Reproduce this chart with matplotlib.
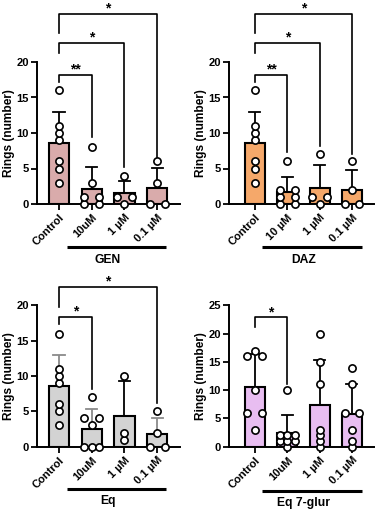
import numpy as np
import matplotlib
matplotlib.use("Agg")
import matplotlib.pyplot as plt
from matplotlib.transforms import blended_transform_factory

plt.rcParams['font.family'] = ['Liberation Sans', 'DejaVu Sans']
plt.rcParams['font.weight'] = 'bold'

# ---------------- data ----------------
labels_gen = ["Control", "10uM", "1 µM", "0.1 µM"]
labels_daz = ["Control", "10 µM", "1 µM", "0.1 µM"]
labels_eq = ["Control", "10uM", "1 µM", "0.1 µM"]
labels_eq7 = ["Control", "10uM", "1 µM", "0.1 µM"]

gen_points = [[16, 11, 10, 9, 6, 5, 3], [8, 3, 1, 1, 0, 0], [4, 1, 1, 0], [6, 3, 0, 0]]
daz_points = [[16, 11, 10, 9, 6, 5, 3], [6, 2, 2, 1, 1, 0, 0], [7, 1, 1, 0], [6, 2, 0, 0]]
eq_points = [[16, 11, 10, 9, 6, 5, 3], [7, 4, 4, 3, 0, 0, 0], [10, 2, 1], [5, 2, 0, 0]]
eq7_points = [[17, 16, 16, 10, 6, 6, 3], [10, 2, 2, 2, 1, 1, 1, 0],
              [20, 15, 11, 3, 2, 1, 0], [14, 11, 6, 6, 3, 1, 0]]

group_names = ["GEN", "DAZ", "Eq", "Eq 7-glur"]
bar_colors = ["#d9abab", "#f5a86a", "#d3d3d3", "#e8bdf1"]
ymax = [20, 20, 20, 25]

# significance: (target index, stars, bracket y, left-leg end, right-leg end)
gen_sig = [(1, "**", 18.2, 17.2, 9.4), (2, "*", 22.7, 21.3, 5.2), (3, "*", 26.8, 24.1, 6.6)]
daz_sig = [(1, "**", 18.2, 17.2, 7.3), (2, "*", 22.7, 21.3, 8.1), (3, "*", 26.8, 24.1, 7.1)]
eq_sig = [(1, "*", 18.35, 17.3, 8.1), (3, "*", 22.6, 19.7, 6.2)]
eq7_sig = [(1, "*", 22.95, 21.2, 11.0)]

panels = [
    (labels_gen, gen_points, gen_sig),
    (labels_daz, daz_points, daz_sig),
    (labels_eq, eq_points, eq_sig),
    (labels_eq7, eq7_points, eq7_sig),
]

# ---------------- layout ----------------
W, H = 380, 512
fig = plt.figure(figsize=(W / 100, H / 100), dpi=100)

# axes rectangles in pixels: (left, right, y0_px, ytop_px), xlim
rects = [
    (37, 180, 204, 62, (-0.673, 3.70)),
    (229, 374, 204, 62, (-0.80, 3.68)),
    (37, 180, 446.7, 305.3, (-0.673, 3.70)),
    (229, 374, 446.7, 305.3, (-0.80, 3.68)),
]
line_specs = [  # (x0, x1, y_axes_frac for line, y for text)
    (0.245, 3.27, -0.303, -0.394),
    (0.22, 3.31, -0.303, -0.394),
    (0.245, 3.27, -0.299, -0.384),
    (0.22, 3.31, -0.313, -0.398),
]

err_colors = [
    ["black"] * 4,
    ["black"] * 4,
    ["#8a8a8a", "#8a8a8a", "black", "#8a8a8a"],
    ["black"] * 4,
]

for pi, (labels, pts, sig) in enumerate(panels):
    l, r, y0, yt, xl = rects[pi]
    ax = fig.add_axes([l / W, 1 - y0 / H, (r - l) / W, (y0 - yt) / H])
    x = np.arange(len(labels))
    means = [np.mean(p) for p in pts]
    sds = [np.std(p, ddof=1) for p in pts]

    ax.bar(x, means, width=0.62, color=bar_colors[pi], edgecolor="black",
           linewidth=1.5, zorder=2)
    for i in range(len(x)):
        ax.plot([x[i], x[i]], [means[i], means[i] + sds[i]], color=err_colors[pi][i],
                lw=1.3, zorder=3, solid_capstyle='butt')
        ax.plot([x[i] - 0.17, x[i] + 0.17], [means[i] + sds[i]] * 2,
                color=err_colors[pi][i], lw=1.3, zorder=3)

    # scatter points with small horizontal spread for equal values
    for i, p in enumerate(pts):
        vals = np.array(p, dtype=float)
        for v in np.unique(vals):
            n = int(np.sum(vals == v))
            if n == 1:
                offs = [0.0]
            elif n == 2:
                offs = [-0.23, 0.23]
            else:
                offs = np.linspace(-0.23, 0.23, n)
            for o in offs:
                ax.plot(x[i] + o, v, 'o', ms=5.2, mfc="white", mec="black",
                        mew=1.2, zorder=4, clip_on=False)

    ax.set_xlim(*xl)
    ax.set_ylim(0, ymax[pi])
    ax.set_yticks(np.arange(0, ymax[pi] + 1, 5))
    ax.set_xticks(x)
    ax.set_xticklabels(labels, rotation=45, ha="right", rotation_mode="anchor",
                       fontsize=8, fontweight="bold")
    for t in ax.get_yticklabels():
        t.set_fontsize(8)
        t.set_fontweight("bold")
    ax.tick_params(axis="both", direction="out", length=4, width=1.3, pad=2)
    ax.spines["top"].set_visible(False)
    ax.spines["right"].set_visible(False)
    ax.spines["left"].set_linewidth(1.4)
    ax.spines["bottom"].set_linewidth(1.4)
    ax.set_ylabel("Rings (number)", fontsize=8.6, fontweight="bold", labelpad=0.5)

    # significance brackets
    for (j, star, yb, yl, yr) in sig:
        ax.plot([0, 0, x[j], x[j]], [yl, yb, yb, yr], color="black", lw=1.2,
                clip_on=False, zorder=5)
        ax.text(x[j] / 2, yb + 0.15, star, ha="center", va="baseline",
                fontsize=10, fontweight="bold", clip_on=False)

    # group underline and name
    x0, x1, yline, ytext = line_specs[pi]
    tr = blended_transform_factory(ax.transData, ax.transAxes)
    ax.plot([x0, x1], [yline, yline], color="black", lw=2.2, transform=tr,
            clip_on=False, solid_capstyle='butt')
    ax.text(1.5, ytext, group_names[pi], transform=tr, ha="center", va="center",
            fontsize=8.7, fontweight="bold")

fig.savefig("out.png", dpi=100)
